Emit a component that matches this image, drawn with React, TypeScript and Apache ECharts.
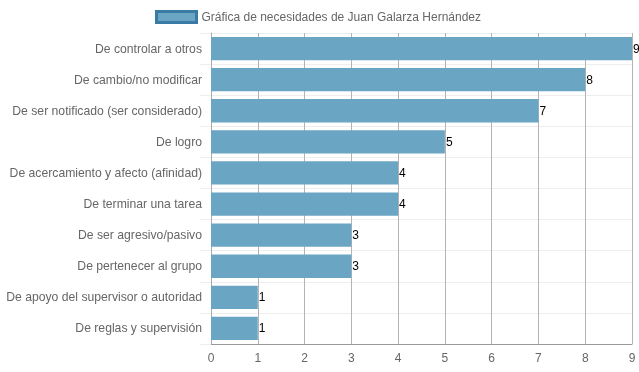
import React, { useEffect, useRef } from "react";
import * as echarts from "echarts";

const categories = [
  "De controlar a otros",
  "De cambio/no modificar",
  "De ser notificado (ser considerado)",
  "De logro",
  "De acercamiento y afecto (afinidad)",
  "De terminar una tarea",
  "De ser agresivo/pasivo",
  "De pertenecer al grupo",
  "De apoyo del supervisor o autoridad",
  "De reglas y supervisión",
];
const values = [9, 8, 7, 5, 4, 4, 3, 3, 1, 1];
const seriesName = "Gráfica de necesidades de Juan Galarza Hernández";

export default function App() {
  const ref = useRef<HTMLDivElement>(null);
  useEffect(() => {
    if (!ref.current) return;
    const chart = echarts.init(ref.current, undefined, { renderer: "svg" });
    const font = "'Liberation Sans', Arial, Helvetica, sans-serif";
    chart.setOption({
      animation: false,
      textStyle: { fontFamily: font },
      legend: {
        top: 5,
        left: 150,
        itemWidth: 40,
        itemHeight: 11,
        itemGap: 6,
        textStyle: { color: "#666", fontSize: 12, fontFamily: font },
        data: [
          {
            name: seriesName,
            icon: "rect",
            itemStyle: { color: "#6ba5c4", borderColor: "#3a7ba6", borderWidth: 3 },
          },
        ],
      },
      grid: { left: 211, right: 7, top: 33, bottom: 28, containLabel: false },
      xAxis: {
        type: "value",
        min: 0,
        max: 9,
        interval: 1,
        axisLine: { show: true, lineStyle: { color: "#999" } },
        axisTick: { show: false },
        axisLabel: { color: "#666", fontSize: 12, fontFamily: font, margin: 8 },
        splitLine: { show: true, lineStyle: { color: "#b4b4b4", width: 1 } },
      },
      yAxis: {
        type: "category",
        inverse: true,
        data: categories,
        axisLine: { show: true, lineStyle: { color: "#aaa" } },
        axisTick: { show: true, length: 11, lineStyle: { color: "#eee" } },
        axisLabel: { color: "#666", fontSize: 12.2, fontFamily: font, margin: 9 },
        splitLine: { show: true, lineStyle: { color: "#eee", width: 1 } },
      },
      series: [
        {
          name: seriesName,
          type: "bar",
          data: values,
          barCategoryGap: "25%",
          itemStyle: { color: "#6ba5c4" },
          label: {
            show: true,
            position: "right",
            distance: 1,
            color: "#000",
            fontSize: 12,
            fontFamily: font,
          },
        },
      ],
    });
    return () => chart.dispose();
  }, []);
  return (
    <div
      ref={ref}
      style={{ position: "fixed", left: 0, top: 0, width: 639, height: 372 }}
    />
  );
}
